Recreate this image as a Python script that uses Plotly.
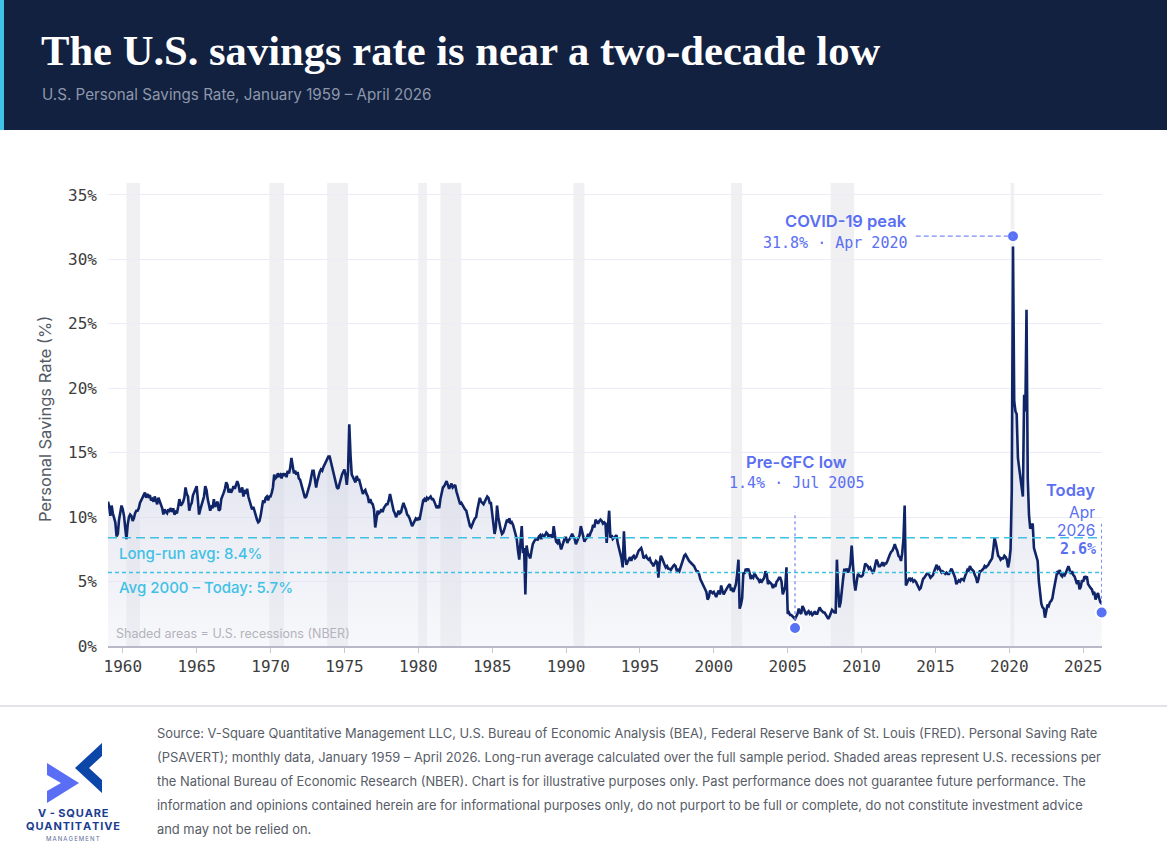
import plotly.graph_objects as go
import pandas as pd

# ---------------- DATA ----------------
rates_1959_1969 = [
    11.2, 10.8, 10.1, 10.9, 10.3, 10.0, 9.6, 8.5, 8.7, 9.8, 10.4, 10.9,
    10.6, 10.1, 9.2, 8.3, 9.4, 10.0, 10.2, 10.1, 9.7, 9.9, 10.3, 10.5,
    10.5, 10.7, 11.1, 11.3, 11.4, 11.6, 11.9, 11.5, 11.8, 11.6, 11.7, 11.3,
    11.4, 11.2, 11.6, 11.3, 11.0, 11.5, 11.2, 10.9, 10.7, 10.2, 10.6, 10.4,
    10.3, 10.6, 10.5, 10.7, 10.4, 10.7, 10.2, 10.4, 10.3, 10.8, 11.4, 10.9,
    11.0, 11.2, 11.5, 12.3, 11.8, 11.6, 10.5, 10.9, 11.1, 11.7, 12.0, 12.2,
    12.4, 11.3, 10.2, 10.6, 10.9, 11.2, 11.6, 12.4, 12.1, 11.4, 10.9, 10.5,
    10.8, 10.7, 11.4, 10.8, 11.0, 11.2, 10.5, 10.6, 11.4, 11.6, 11.9, 12.2,
    12.7, 12.5, 11.9, 12.2, 11.9, 12.1, 12.4, 12.2, 12.6, 12.8, 12.5, 12.0,
    12.0, 12.3, 11.6, 12.1, 11.8, 12.2, 11.6, 11.2, 10.9, 10.6, 10.8, 10.4,
    10.0, 9.8, 9.6, 9.7, 10.1, 10.6, 11.3, 11.1, 11.5, 11.6, 11.3, 11.6,
]
rates_1970s = [
    11.6, 11.9, 12.3, 13.3, 13.0, 13.1, 13.4, 13.2, 13.3, 13.0, 13.4, 13.2,
    13.4, 13.1, 13.6, 13.4, 13.8, 14.6, 13.9, 13.4, 13.6, 13.3, 13.5, 13.0,
    12.9, 12.5, 12.1, 11.7, 11.5, 11.6, 11.9, 12.3, 12.6, 13.1, 13.6, 13.6,
    12.9, 12.3, 12.8, 13.2, 13.5, 13.7, 13.6, 13.9, 14.1, 14.4, 14.6, 14.7,
    14.7, 14.3, 14.0, 13.6, 13.1, 12.8, 12.3, 12.2, 12.6, 13.1, 13.3, 13.5,
    13.7, 13.2, 12.5, 13.6, 17.2, 14.8, 13.3, 13.1, 12.9, 12.7, 13.2, 12.9,
    12.9, 12.5, 12.3, 11.8, 12.0, 12.1, 11.8, 11.6, 11.1, 11.4, 11.1, 11.0,
    10.6, 9.2, 9.8, 10.5, 10.3, 10.4, 10.6, 10.4, 10.7, 10.9, 11.0, 11.0,
    11.3, 11.8, 11.4, 10.8, 10.5, 10.3, 10.0, 10.2, 10.5, 10.3, 10.4, 10.8,
    11.1, 10.8, 10.6, 10.2, 10.1, 9.9, 9.6, 9.3, 9.5, 9.7, 9.9, 9.8,
]
rates_1980s = [
    9.9, 9.8, 10.4, 11.0, 11.3, 11.4, 11.2, 11.5, 11.4, 11.5, 11.6, 11.4,
    11.4, 11.2, 10.9, 10.7, 10.9, 10.7, 11.4, 11.8, 12.3, 12.4, 12.6, 12.8,
    12.5, 12.2, 12.4, 12.6, 12.3, 12.4, 12.5, 12.0, 11.6, 11.4, 11.0, 11.1,
    10.9, 10.7, 10.6, 10.5, 10.1, 9.6, 9.3, 9.2, 9.5, 9.7, 9.9, 10.0,
    10.6, 11.0, 11.5, 11.2, 11.1, 11.0, 11.2, 11.4, 11.6, 11.5, 11.1, 11.1,
    10.3, 9.4, 8.7, 9.2, 10.9, 10.0, 9.4, 9.0, 8.7, 8.8, 9.1, 9.4,
    9.8, 9.7, 9.9, 9.5, 9.6, 9.4, 9.0, 8.6, 8.3, 7.4, 6.7, 8.0,
    9.3, 7.2, 7.6, 4.0, 7.8, 7.2, 7.0, 6.8, 7.4, 7.9, 8.1, 8.3,
    8.4, 8.2, 8.5, 8.6, 8.3, 8.6, 8.5, 8.6, 8.8, 8.7, 8.4, 8.6,
    8.6, 8.4, 9.3, 8.6, 8.1, 8.0, 8.3, 7.9, 7.5, 7.8, 8.2, 8.4,
]
rates_1990s = [
    8.4, 8.0, 8.2, 8.3, 8.5, 8.7, 8.5, 8.3, 7.9, 8.1, 8.3, 8.6,
    9.3, 8.9, 8.6, 8.1, 8.3, 8.4, 8.7, 8.5, 8.8, 9.0, 9.4, 9.2,
    9.8, 9.6, 9.5, 9.7, 9.8, 9.7, 9.5, 9.6, 9.5, 8.0, 9.0, 10.5,
    8.4, 8.6, 8.3, 8.4, 8.5, 8.6, 8.0, 7.6, 7.1, 6.8, 6.1, 8.9,
    6.9, 6.3, 6.5, 6.7, 6.9, 6.6, 6.9, 7.0, 6.8, 6.9, 7.2, 7.4,
    7.5, 7.6, 7.3, 6.8, 6.9, 7.0, 6.8, 6.7, 6.8, 6.5, 6.4, 6.2,
    6.4, 6.6, 6.5, 5.3, 6.4, 7.0, 6.8, 6.5, 6.3, 6.1, 6.2, 6.0,
    6.0, 5.9, 6.1, 6.2, 6.3, 6.2, 5.8, 5.9, 5.8, 6.1, 6.4, 6.6,
    7.0, 7.1, 6.9, 6.8, 6.6, 6.5, 6.4, 6.3, 6.2, 6.0, 5.8, 5.8,
    5.6, 5.2, 5.0, 4.7, 4.5, 4.4, 4.2, 3.6, 3.8, 4.3, 4.2, 4.1,
]
rates_2000s = [
    4.2, 3.9, 3.8, 4.1, 4.3, 4.0, 4.7, 4.3, 4.0, 4.2, 4.4, 4.6,
    4.7, 4.8, 4.3, 4.4, 4.2, 4.5, 4.8, 5.6, 6.7, 2.9, 3.2, 3.7,
    5.7, 5.6, 6.0, 5.8, 6.0, 5.7, 5.2, 5.4, 5.3, 5.6, 5.5, 5.3,
    5.2, 5.0, 5.1, 5.0, 5.2, 5.3, 5.8, 5.6, 4.8, 5.0, 4.9, 4.8,
    4.5, 4.7, 4.6, 5.0, 5.1, 5.3, 5.3, 5.0, 4.0, 4.3, 4.6, 6.1,
    2.5, 2.6, 2.4, 2.4, 2.3, 2.2, 2.1, 2.3, 2.5, 2.9, 2.6, 2.5,
    3.1, 2.9, 2.6, 2.4, 2.6, 2.7, 2.5, 2.6, 2.4, 2.5, 2.7, 2.5,
    2.5, 2.7, 3.0, 2.8, 2.7, 2.6, 2.6, 2.4, 2.2, 2.1, 2.3, 2.6,
    2.8, 2.7, 2.6, 2.6, 6.7, 4.5, 3.0, 3.4, 4.6, 5.2, 6.0, 5.8,
    6.0, 5.7, 5.9, 6.4, 7.8, 6.2, 5.0, 4.3, 4.9, 5.6, 5.5, 5.4,
]
rates_2010s = [
    5.4, 5.5, 5.9, 6.4, 6.3, 6.2, 6.0, 6.1, 5.9, 5.7, 5.8, 6.3,
    6.7, 6.5, 6.2, 6.2, 6.3, 6.5, 6.2, 6.4, 6.4, 6.6, 6.9, 7.1,
    7.3, 7.4, 7.6, 7.9, 7.6, 7.4, 7.0, 6.9, 6.6, 7.2, 8.3, 10.9,
    4.7, 5.0, 5.1, 5.3, 5.1, 5.2, 5.0, 5.1, 5.0, 4.8, 4.6, 4.4,
    4.5, 4.9, 5.2, 5.3, 5.5, 5.6, 5.6, 5.5, 5.3, 5.4, 5.5, 5.8,
    6.0, 6.3, 6.0, 6.1, 5.9, 5.7, 5.8, 5.7, 5.6, 5.7, 5.6, 5.6,
    5.8, 6.0, 5.8, 5.6, 5.3, 4.8, 5.0, 5.1, 5.0, 5.2, 5.2, 5.1,
    5.4, 5.6, 5.9, 5.8, 6.2, 6.0, 5.9, 5.8, 5.5, 5.3, 4.9, 5.2,
    5.8, 5.8, 5.9, 6.0, 6.2, 6.1, 6.2, 6.3, 6.5, 6.7, 6.8, 7.5,
    8.4, 8.0, 7.4, 7.0, 6.9, 6.7, 6.8, 6.8, 7.0, 6.9, 6.7, 6.1,
]
rates_2020s = [
    6.6, 7.5, 12.0, 31.0, 19.0, 18.2, 18.0, 14.6, 13.8, 13.2, 12.4, 11.6,
    19.5, 18.2, 26.1, 13.0, 10.2, 9.1, 9.3, 9.5, 7.6, 7.3, 7.0, 6.6,
    5.0, 3.7, 3.3, 3.0, 2.9, 2.2, 2.8, 3.2, 3.1, 3.4, 3.5, 3.7,
    4.3, 4.8, 5.2, 5.8, 5.7, 5.9, 5.5, 5.4, 5.6, 5.5, 5.7, 5.9,
    6.2, 5.9, 5.6, 5.8, 5.5, 5.4, 5.0, 4.8, 5.1, 4.4, 4.6, 5.1,
    5.0, 5.4, 5.3, 5.4, 4.8, 4.6, 4.5, 4.4, 4.1, 4.2, 3.6, 3.9,
    4.1, 3.7, 3.4, 3.3,
]
series_start = "1959-01-01"

recession_starts = ["1960-04-01", "1969-12-01", "1973-11-01", "1980-01-01", "1981-07-01",
                    "1990-07-01", "2001-03-01", "2007-12-01", "2020-02-01"]
recession_ends = ["1961-03-01", "1970-12-01", "1975-04-01", "1980-08-01", "1982-12-01",
                  "1991-04-01", "2001-12-01", "2009-07-01", "2020-05-01"]

long_run_avg = 8.4
avg_2000_today = 5.7
covid_peak_value, covid_peak_date = 31.8, "2020-04-01"
gfc_low_value, gfc_low_date = 1.4, "2005-07-01"
today_value, today_date = 2.6, "2026-04-01"

x_ticks_years = list(range(1960, 2030, 5))
y_ticks = [0, 5, 10, 15, 20, 25, 30, 35]

# ---------------- BUILD ----------------
rates = rates_1959_1969 + rates_1970s + rates_1980s + rates_1990s + rates_2000s + rates_2010s + rates_2020s
dates = pd.date_range(series_start, periods=len(rates), freq="MS")

FIG_W, FIG_H = 1167, 862
L, RGT, TOP, BOT = 108, 1102, 183, 646


def px(xp):
    return (xp - L) / (RGT - L)


def py(yp):
    return (BOT - yp) / (BOT - TOP)


NAVY = "#0f2568"
CYAN = "#3fc1e6"
ACCENT = "#5a6ff2"
SANS = "Inter"
MONO = "DejaVu Sans Mono"

fig = go.Figure()

fig.add_trace(go.Scatter(
    x=dates, y=rates, mode="lines",
    line=dict(color=NAVY, width=2.6),
    fill="tozeroy",
    fillgradient=dict(type="vertical", start=0, stop=14,
                      colorscale=[[0, "rgba(232,234,243,0.35)"], [1, "rgba(205,209,228,0.55)"]]),
    hoverinfo="skip", showlegend=False,
))

# highlight dots
fig.add_trace(go.Scatter(
    x=[covid_peak_date, gfc_low_date, today_date],
    y=[covid_peak_value, gfc_low_value, today_value],
    mode="markers", cliponaxis=False,
    marker=dict(size=12, color="#5872f6", line=dict(color="white", width=2)),
    hoverinfo="skip", showlegend=False,
))

shapes = []
# recession bands
for s, e in zip(recession_starts, recession_ends):
    shapes.append(dict(type="rect", xref="x", yref="paper", x0=s, x1=e, y0=0, y1=1,
                       fillcolor="#f0f0f3", line=dict(width=0), layer="below"))
# average lines
shapes.append(dict(type="line", xref="paper", yref="y", x0=0, x1=1, y0=long_run_avg, y1=long_run_avg,
                   line=dict(color=CYAN, width=1.7, dash="9px,5px")))
shapes.append(dict(type="line", xref="paper", yref="y", x0=0, x1=1, y0=avg_2000_today, y1=avg_2000_today,
                   line=dict(color=CYAN, width=1.6, dash="4px,3px")))
# connectors
shapes.append(dict(type="line", xref="x", yref="y", x0="2013-09-01", x1=covid_peak_date,
                   y0=covid_peak_value, y1=covid_peak_value,
                   line=dict(color="#7d8ef5", width=1.3, dash="5px,3px")))
shapes.append(dict(type="line", xref="x", yref="y", x0=gfc_low_date, x1=gfc_low_date,
                   y0=gfc_low_value + 0.6, y1=10.4,
                   line=dict(color="#7d8ef5", width=1.3, dash="3px,3px")))
shapes.append(dict(type="line", xref="x", yref="y", x0=today_date, x1=today_date,
                   y0=today_value + 0.6, y1=9.6,
                   line=dict(color="#7d8ef5", width=1.3, dash="3px,3px")))

# header
shapes.append(dict(type="rect", xref="paper", yref="paper", x0=px(0), x1=px(FIG_W), y0=py(130), y1=py(0),
                   fillcolor="#12213f", line=dict(width=0), layer="above"))
shapes.append(dict(type="rect", xref="paper", yref="paper", x0=px(0), x1=px(4), y0=py(130), y1=py(0),
                   fillcolor="#3fc4e8", line=dict(width=0), layer="above"))
# footer separator
shapes.append(dict(type="line", xref="paper", yref="paper", x0=px(0), x1=px(FIG_W), y0=py(706), y1=py(706),
                   line=dict(color="#e2e2ea", width=2)))


# logo chevrons
def path(points):
    s = "M " + " L ".join(f"{px(a):.5f},{py(b):.5f}" for a, b in points) + " Z"
    return s


shapes.append(dict(type="path", xref="paper", yref="paper",
                   path=path([(47, 763), (79, 783), (47, 803), (47, 791), (61, 783), (47, 775)]),
                   fillcolor="#5a6ef5", line=dict(width=0)))
shapes.append(dict(type="path", xref="paper", yref="paper",
                   path=path([(102, 743), (75, 768), (102, 793), (102, 780), (89, 768), (102, 756)]),
                   fillcolor="#0c46a8", line=dict(width=0)))

ann = []


def text(xp, yp, t, size, color, family=SANS, anchor="left", weight=None, **kw):
    f = dict(size=size, color=color, family=family)
    if weight:
        f["weight"] = weight
    ann.append(dict(x=px(xp), y=py(yp), xref="paper", yref="paper", text=t, showarrow=False,
                    xanchor=anchor, yanchor="middle", font=f, **kw))


text(39, 50, "The U.S. savings rate is near a two-decade low", 42.6, "white",
     family="Liberation Serif", weight="bold")
text(40, 94, "U.S. Personal Savings Rate, January 1959 – April 2026", 15.2, "#8d97ab")

text(45, 419, "Personal Savings Rate (%)", 16.5, "#555b66", anchor="center", textangle=-90)

text(117, 553, "Long-run avg: 8.4%", 15, CYAN, weight=500)
text(117, 587, "Avg 2000 – Today: 5.7%", 15, CYAN, weight=500)
text(114, 633, "Shaded areas = U.S. recessions (NBER)", 12.5, "#b3b3bb")

text(909, 221, "COVID-19 peak", 16.5, ACCENT, anchor="right", weight=600)
text(910, 243, "31.8% · Apr 2020", 15, ACCENT, family=MONO, anchor="right")
text(796, 462, "Pre-GFC low", 16.5, ACCENT, anchor="center", weight=600)
text(796, 483, "1.4% · Jul 2005", 15, ACCENT, family=MONO, anchor="center")
text(1097, 490, "Today", 16.5, ACCENT, anchor="right", weight=600)
text(1097, 512, "Apr", 15.5, ACCENT, anchor="right")
text(1097, 530, "2026", 15.5, ACCENT, anchor="right")
text(1098, 549, "<b>2.6%</b>", 15, ACCENT, family=MONO, anchor="right")

footer_lines = [
    "Source: V-Square Quantitative Management LLC, U.S. Bureau of Economic Analysis (BEA), Federal Reserve Bank of St. Louis (FRED). Personal Saving Rate",
    "(PSAVERT); monthly data, January 1959 – April 2026. Long-run average calculated over the full sample period. Shaded areas represent U.S. recessions per",
    "the National Bureau of Economic Research (NBER). Chart is for illustrative purposes only. Past performance does not guarantee future performance. The",
    "information and opinions contained herein are for informational purposes only, do not purport to be full or complete, do not constitute investment advice",
    "and may not be relied on.",
]
for i, line in enumerate(footer_lines):
    text(155, 733 + 24 * i, line, 12.9, "#585d68")

HS = "\u200a"
text(73, 813, f"V{HS} - {HS}" + HS.join("SQUARE"), 11, "#1b3d8f", anchor="center", weight="bold")
text(73, 826, HS.join("QUANTITATIVE"), 11, "#1b3d8f", anchor="center", weight="bold")
text(73, 838, "\u2009".join("MANAGEMENT"), 6, "#5a6a9a", anchor="center")

fig.update_layout(
    width=FIG_W, height=FIG_H,
    margin=dict(l=L, r=FIG_W - RGT, t=TOP, b=FIG_H - BOT),
    paper_bgcolor="white", plot_bgcolor="white",
    shapes=shapes, annotations=ann,
    showlegend=False,
    xaxis=dict(type="date", range=["1959-01-01", "2026-04-10"],
               tickvals=[f"{y}-01-01" for y in x_ticks_years],
               ticktext=[str(y) for y in x_ticks_years],
               showgrid=False, zeroline=False,
               showline=True, linecolor="#b8b8c8", linewidth=1.5,
               ticks="outside", ticklen=5, tickcolor="#c8c8d4",
               tickfont=dict(family=MONO, size=16, color="#3d3d3d")),
    yaxis=dict(range=[0, 35.93], tickvals=y_ticks, ticktext=[f"{v}%" for v in y_ticks],
               showgrid=True, gridcolor="#ececf6", gridwidth=1, zeroline=False,
               showline=False, ticks="", ticklabelstandoff=10,
               tickfont=dict(family=MONO, size=16, color="#3d3d3d")),
)

fig.write_html("out.html")
